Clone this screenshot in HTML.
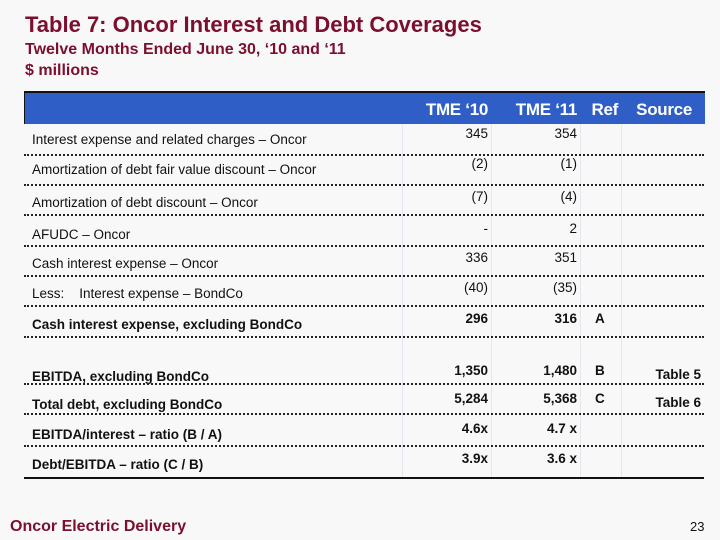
<!DOCTYPE html>
<html><head><meta charset="utf-8"><style>
body{margin:0;width:720px;height:540px;background:#f8f8f8;position:relative;overflow:hidden;font-family:"Liberation Sans",Arial,sans-serif}
.t{position:absolute;color:#7a0f2e;font-weight:bold;white-space:nowrap}
.c{position:absolute;font-size:13.5px;color:#111;white-space:nowrap;line-height:16px}
.r{text-align:right}
.b{font-weight:bold}
.dot{position:absolute;left:24px;width:680px;border-top:2px dotted #222;height:0}
.vl{position:absolute;top:124px;height:354px;border-left:1px solid #e4e8ee}
.h{position:absolute;color:#fff;font-weight:bold;font-size:17px;top:100px;letter-spacing:-0.3px}
</style></head><body>
<div class="t" style="left:25px;top:12px;font-size:22px">Table 7: Oncor Interest and Debt Coverages</div>
<div class="t" style="left:25px;top:41px;font-size:16px">Twelve Months Ended June 30, ‘10 and ‘11</div>
<div class="t" style="left:25px;top:62px;font-size:16px">$ millions</div>
<div style="position:absolute;left:24px;top:91px;width:680px;height:31px;background:#2f5fc6;border-top:2px solid #111;border-left:1px solid #111"></div>
<div class="h" style="left:402px;width:86px;text-align:right">TME ‘10</div>
<div class="h" style="left:491px;width:86px;text-align:right">TME ‘11</div>
<div class="h" style="left:580px;width:38px;text-align:right">Ref</div>
<div class="h" style="left:621px;width:71px;text-align:right">Source</div>
<div class="vl" style="left:402px"></div>
<div class="vl" style="left:491px"></div>
<div class="vl" style="left:580px"></div>
<div class="vl" style="left:621px"></div>
<div id="rows"></div>
<div style="position:absolute;left:24px;top:477px;width:680px;height:2px;background:#111"></div>
<div class="t" style="left:10px;top:518px;font-size:16px">Oncor Electric Delivery</div>
<div style="position:absolute;left:690px;top:519px;font-size:13px;color:#111">23</div>
<script>
const labels=["Interest expense and related charges – Oncor","Amortization of debt fair value discount – Oncor","Amortization of debt discount – Oncor","AFUDC – Oncor","Cash interest expense – Oncor","Less:    Interest expense – BondCo","Cash interest expense, excluding BondCo","EBITDA, excluding BondCo","Total debt, excluding BondCo","EBITDA/interest – ratio (B / A)","Debt/EBITDA – ratio (C / B)"];
const tme10=["345","(2)","(7)","-","336","(40)","296","1,350","5,284","4.6x","3.9x"];
const tme11=["354","(1)","(4)","2","351","(35)","316","1,480","5,368","4.7 x","3.6 x"];
const refs=["","","","","","","A","B","C","",""];
const sources=["","","","","","","","Table 5","Table 6","",""];
const bold=[0,0,0,0,0,0,1,1,1,1,1];
const textY=[130,160,193,225,254,284,315,367,395,425,455];
const lineY=[154,184,214,245,275,305,336,383,413,445];
const host=document.getElementById('rows');
function cell(txt,x,y,w,cls,name){const d=document.createElement('div');


d.className='c '+cls;d.style.left=x+'px';d.style.top=y+'px';if(w)d.style.width=w+'px';d.style.whiteSpace='pre';d.textContent=txt;host.appendChild(d);}
labels.forEach((l,i)=>{const b=bold[i]?' b':'';const y=textY[i];
cell(l,32,y+2,0,b,'row-label');
cell(tme10[i],402,y-4,86,'r'+b,'value-tme10');
cell(tme11[i],491,y-4,86,'r'+b,'value-tme11');
cell(refs[i],595,y-4,0,b,'ref');
cell(sources[i],621,y,80,'r'+b,'source');});
lineY.forEach(y=>{const d=document.createElement('div');


d.className='dot';d.style.top=y+'px';host.appendChild(d);});
</script>
</body></html>
